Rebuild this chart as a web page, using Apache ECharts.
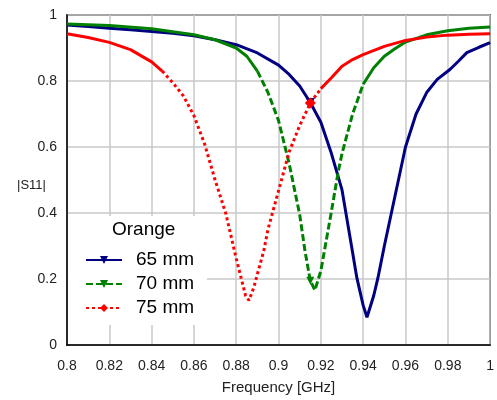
<!DOCTYPE html>
<html>
<head>
<meta charset="utf-8">
<script src="https://cdn.jsdelivr.net/npm/echarts@6/dist/echarts.min.js"></script>
<style>
  html, body { margin: 0; padding: 0; background: #fff; }
  #main { width: 497px; height: 400px; }
</style>
</head>
<body>
<div id="main"></div>
<script>
// |S11|, three antenna lengths
var freq65 = [0.800, 0.810, 0.820, 0.830, 0.840, 0.850, 0.860, 0.870, 0.880, 0.890, 0.900, 0.905, 0.910, 0.915, 0.920, 0.925, 0.930, 0.935, 0.937, 0.940, 0.9418, 0.945, 0.947, 0.950, 0.955, 0.960, 0.965, 0.970, 0.975, 0.981, 0.985, 0.989, 0.995, 1.000]
var s65 = [0.970, 0.965, 0.960, 0.955, 0.950, 0.945, 0.937, 0.925, 0.910, 0.885, 0.848, 0.820, 0.785, 0.735, 0.675, 0.580, 0.470, 0.280, 0.204, 0.120, 0.084, 0.150, 0.204, 0.300, 0.450, 0.600, 0.700, 0.765, 0.805, 0.835, 0.860, 0.886, 0.903, 0.916]

var freq70 = [0.800, 0.820, 0.840, 0.860, 0.870, 0.880, 0.885, 0.890, 0.895, 0.900, 0.905, 0.910, 0.9125, 0.915, 0.9172, 0.920, 0.925, 0.9282, 0.930, 0.935, 0.940, 0.945, 0.950, 0.955, 0.960, 0.970, 0.980, 0.990, 1.000]
var s70 = [0.973, 0.968, 0.958, 0.940, 0.925, 0.900, 0.875, 0.830, 0.765, 0.680, 0.550, 0.395, 0.285, 0.195, 0.166, 0.225, 0.405, 0.525, 0.580, 0.700, 0.790, 0.840, 0.875, 0.898, 0.918, 0.940, 0.952, 0.960, 0.964]

var freq75 = [0.800, 0.810, 0.820, 0.830, 0.840, 0.845, 0.850, 0.855, 0.860, 0.865, 0.870, 0.875, 0.880, 0.8844, 0.886, 0.8883, 0.890, 0.893, 0.895, 0.900, 0.905, 0.910, 0.915, 0.920, 0.925, 0.930, 0.935, 0.940, 0.950, 0.960, 0.970, 0.980, 0.990, 1.000]
var s75 = [0.943, 0.932, 0.917, 0.895, 0.858, 0.830, 0.795, 0.755, 0.695, 0.610, 0.500, 0.400, 0.262, 0.150, 0.135, 0.174, 0.215, 0.285, 0.350, 0.468, 0.585, 0.665, 0.733, 0.777, 0.810, 0.845, 0.865, 0.880, 0.905, 0.923, 0.933, 0.939, 0.942, 0.943]

var xTicks = [0.8, 0.82, 0.84, 0.86, 0.88, 0.9, 0.92, 0.94, 0.96, 0.98, 1]
var yTicks = [0, 0.2, 0.4, 0.6, 0.8, 1]
var markerFreq = 0.915

var FONT = 'Liberation Sans'
var myChart = echarts.init(document.getElementById('main'))

function pairs(f, v, lo, hi) {
  var out = []
  for (var i = 0; i < f.length; i++) {
    if (f[i] >= lo - 1e-9 && f[i] <= hi + 1e-9) out.push([f[i], v[i]])
  }
  return out
}
function markAt(f, v) {
  var i = f.indexOf(markerFreq)
  return [f[i], v[i]]
}

var curves = [
  { name: '65 mm', f: freq65, v: s65, color: '#000080', type: 'solid', from: 0, to: 0,
    symbol: 'triangle', rot: 180, size: 9 },
  { name: '70 mm', f: freq70, v: s70, color: '#008000', type: [7, 3], from: 0.89, to: 0.94,
    symbol: 'triangle', rot: 180, size: 8 },
  { name: '75 mm', f: freq75, v: s75, color: '#ff0000', type: [3, 3], from: 0.845, to: 0.92,
    symbol: 'diamond', rot: 0, size: 11 }
]

var series = []
curves.forEach(function (c) {
  var full = c.from === c.to
  series.push({
    name: c.name,
    type: 'line',
    data: full ? pairs(c.f, c.v, 0, 2) : pairs(c.f, c.v, c.from, c.to),
    symbol: c.symbol,
    symbolRotate: c.rot,
    symbolSize: c.size,
    showSymbol: false,
    color: c.color,
    lineStyle: { color: c.color, width: 3, type: c.type },
    silent: true,
    animation: false,
    markPoint: {
      symbol: c.symbol,
      symbolRotate: c.rot,
      symbolSize: c.size,
      itemStyle: { color: c.color },
      label: { show: false },
      data: [{ coord: markAt(c.f, c.v) }]
    }
  })
  if (!full) {
    // flat parts of the curve look solid in the original
    [pairs(c.f, c.v, 0, c.from), pairs(c.f, c.v, c.to, 2)].forEach(function (d) {
      series.push({
        type: 'line', data: d, symbol: 'none', silent: true, animation: false,
        lineStyle: { color: c.color, width: 3, type: 'solid' }
      })
    })
  }
})

var option = {
  animation: false,
  textStyle: { fontFamily: FONT },
  grid: {
    left: 67, right: 4, top: 15, bottom: 52,
    show: true, borderColor: '#000', borderWidth: 1.5, backgroundColor: '#fff'
  },
  xAxis: {
    type: 'value', min: xTicks[0], max: xTicks[xTicks.length - 1], interval: 0.02,
    name: 'Frequency [GHz]', nameLocation: 'middle', nameGap: 35,
    nameTextStyle: { fontSize: 15, color: '#222', fontFamily: FONT },
    axisLine: { lineStyle: { color: '#000', width: 1.5 } },
    axisTick: { show: false },
    axisLabel: { fontSize: 14, color: '#222', margin: 14, fontFamily: FONT,
      formatter: function (v) { return String(+v.toFixed(2)) } },
    splitLine: { lineStyle: { color: '#c8c8c8', width: 1.5 } }
  },
  yAxis: {
    type: 'value', min: yTicks[0], max: yTicks[yTicks.length - 1], interval: 0.2,
    axisLine: { show: true, lineStyle: { color: '#000', width: 1.5 } },
    axisTick: { show: false },
    axisLabel: { fontSize: 14, color: '#222', margin: 10, padding: [8, 0, 0, 0], fontFamily: FONT,
      formatter: function (v) { return String(+v.toFixed(1)) } },
    splitLine: { lineStyle: { color: '#c8c8c8', width: 1.5 } }
  },
  legend: {
    data: ['65 mm', '70 mm', '75 mm'],
    orient: 'vertical', left: 80, top: 245, z: 10,
    itemWidth: 36, itemHeight: 10, itemGap: 4,
    selectedMode: false,
    textStyle: { fontSize: 19, color: '#000', fontFamily: FONT, lineHeight: 20, padding: [0, 0, 0, 9] }
  },
  graphic: [
    { type: 'rect', left: 68, top: 216, shape: { width: 139, height: 109 },
      style: { fill: '#fff' }, z: 1 },
    { type: 'text', left: 112, top: 220, z: 6,
      style: { text: 'Orange', fontSize: 19, fill: '#000', fontFamily: FONT } },
    { type: 'text', left: 17, top: 179, z: 6,
      style: { text: '|S11|', fontSize: 13, fill: '#222', fontFamily: FONT } }
  ],
  series: series
}
myChart.setOption(option)
</script>
</body>
</html>
